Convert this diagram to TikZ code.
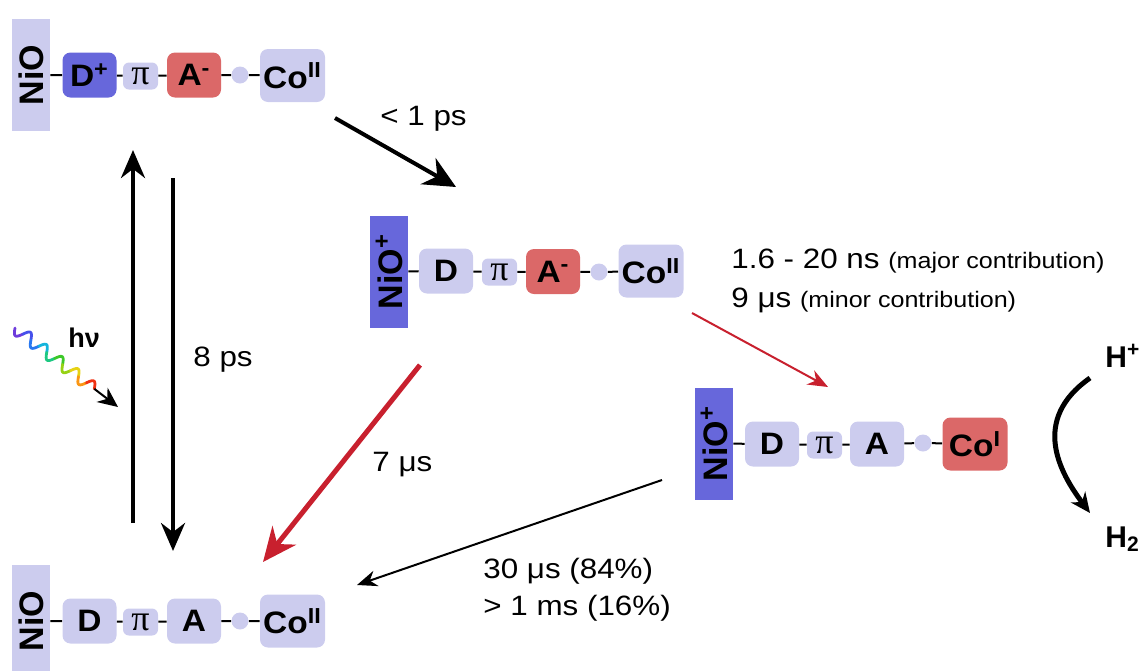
\documentclass[tikz,border=0pt]{standalone}
\usepackage{fontspec}
\setmainfont{Liberation Sans}
\newfontfamily\lblfont{Liberation Sans}[FakeStretch=1.12]
\newfontfamily\boxfont{Liberation Sans}[FakeStretch=1.08]
\newfontfamily\pifont{Liberation Serif}
\usetikzlibrary{arrows.meta,positioning,calc}

\definecolor{lav}{RGB}{204,204,238}
\definecolor{vio}{RGB}{103,103,219}
\definecolor{sal}{RGB}{219,104,104}
\definecolor{crim}{RGB}{200,32,46}
\definecolor{hva}{RGB}{110,60,220}
\definecolor{hvb}{RGB}{70,80,235}
\definecolor{hvc}{RGB}{40,120,240}
\definecolor{hvd}{RGB}{20,180,220}
\definecolor{hve}{RGB}{30,200,130}
\definecolor{hvf}{RGB}{60,200,40}
\definecolor{hvg}{RGB}{150,210,20}
\definecolor{hvh}{RGB}{230,210,20}
\definecolor{hvi}{RGB}{250,150,20}
\definecolor{hvj}{RGB}{240,50,20}

\begin{document}
\begin{tikzpicture}[x=0.5pt, y=-0.5pt,
  bar/.style={rectangle, minimum width=56pt, minimum height=19pt, inner sep=0pt, rotate=90, font=\bfseries\fontsize{17}{18}\selectfont},
  unit/.style={rectangle, rounded corners=4pt, fill=lav, minimum width=27pt, minimum height=22.5pt, inner sep=0pt, font=\boxfont\bfseries\fontsize{15.5}{17}\selectfont},
  pibox/.style={rectangle, rounded corners=3pt, fill=lav, minimum width=17.5pt, minimum height=13.5pt, inner sep=0pt, font=\pifont\fontsize{18}{18}\selectfont},
  cobox/.style={unit, minimum width=32.5pt, minimum height=26.5pt},
  link/.style={circle, fill=lav, minimum size=8.5pt, inner sep=0pt},
  bond/.style={line width=1pt},
  lbl/.style={anchor=base west, inner sep=0pt, font=\lblfont\fontsize{14}{16}\selectfont},
  bold/.style={anchor=base west, inner sep=0pt, font=\bfseries\fontsize{15}{16}\selectfont},
  thick arrow/.style={line width=2pt, -{Stealth[length=16pt, width=15pt]}},
  thin arrow/.style={line width=1pt, -{Stealth[length=10pt, width=8pt]}}]
  \clip (0,0) rectangle (1140,670);

  % row 1: NiO - D+ - pi - A- - Co(II)
  \node[bar, fill=lav] (nio1) at (31,75) {NiO};
  \node[unit, fill=vio] (dp1) at (89.5,75) {D\textsuperscript{+}};
  \node[pibox] (pi1) at (140.5,76) {π};
  \node[unit, fill=sal] (am1) at (194,75) {A\textsuperscript{-}};
  \node[link] (dot1) at (240,75) {};
  \node[cobox] (co1) at (292.5,75.5) {Co\textsuperscript{II}};

  % row 2: NiO+ - D - pi - A- - Co(II)
  \node[bar, fill=vio] (nio2) at (389,271.5) {NiO\textsuperscript{+}};
  \node[unit] (d2) at (446,271) {D};
  \node[pibox] (pi2) at (499.5,272) {π};
  \node[unit, fill=sal] (am2) at (553,271.5) {A\textsuperscript{-}};
  \node[link] (dot2) at (599,272) {};
  \node[cobox] (co2) at (651,271) {Co\textsuperscript{II}};

  % row 3: NiO+ - D - pi - A - Co(I)
  \node[bar, fill=vio] (nio3) at (714,443.5) {NiO\textsuperscript{+}};
  \node[unit] (d3) at (772,444) {D};
  \node[pibox] (pi3) at (824.5,445) {π};
  \node[unit] (a3) at (877,444) {A};
  \node[link] (dot3) at (923,443) {};
  \node[cobox, fill=sal] (co3) at (975,444) {Co\textsuperscript{I}};

  % row 4: ground state
  \node[bar, fill=lav] (nio4) at (31,621) {NiO};
  \node[unit] (d4) at (89.5,621) {D};
  \node[pibox] (pi4) at (140.5,622) {π};
  \node[unit] (a4) at (194,621) {A};
  \node[link] (dot4) at (240,621) {};
  \node[cobox] (co4) at (292.5,621) {Co\textsuperscript{II}};

  \draw[bond] (nio1) -- (dp1) -- (pi1) -- (am1) -- (dot1) -- (co1);
  \draw[bond] (nio2) -- (d2) -- (pi2) -- (am2) -- (dot2) -- (co2);
  \draw[bond] (nio3) -- (d3) -- (pi3) -- (a3) -- (dot3) -- (co3);
  \draw[bond] (nio4) -- (d4) -- (pi4) -- (a4) -- (dot4) -- (co4);

  % arrow ends
  \coordinate (injs) at (335,118);
  \coordinate (injt) at (456,187);
  \coordinate (ups) at (133,523);
  \coordinate (upt) at (133,150);
  \coordinate (dns) at (173,178);
  \coordinate (dnt) at (173,551);
  \coordinate (rcs) at (420,365);
  \coordinate (rct) at (263,562);
  \coordinate (cos) at (692,313);
  \coordinate (cot) at (828,387);
  \coordinate (bks) at (662,480);
  \coordinate (bkt) at (357,585);
  \coordinate (hps) at (1090,378);
  \coordinate (hpt) at (1090,513);
  \coordinate (hvstart) at (15,328);
  \coordinate (hvtip) at (118,407);

  \draw[thick arrow] (injs) -- (injt);
  \draw[line width=2pt, -{Stealth[length=14pt, width=12pt]}] (ups) -- (upt);
  \draw[line width=2pt, -{Stealth[length=14pt, width=12pt]}] (dns) -- (dnt);
  \draw[crim, line width=2.5pt, -{Stealth[length=17pt, width=15pt]}] (rcs) -- (rct);
  \draw[thin arrow, crim] (cos) -- (cot);
  \draw[thin arrow] (bks) -- (bkt);
  \draw[line width=2.5pt, -{Stealth[length=10pt, width=9pt]}] (hps) .. controls (1030,420) and (1060,473) .. (hpt);

  % light, rainbow wave
  \begin{scope}[shift={(hvstart)}, rotate=-37.5]
    \foreach \c/\a/\b in {hva/0/10, hvb/10/20, hvc/20/30, hvd/30/40, hve/40/50,
                          hvf/50/60, hvg/60/70, hvh/70/80, hvi/80/90, hvj/90/100}
      \draw[\c, line width=1.4pt, line cap=round] plot[domain=\a:\b, samples=15, smooth] (\x, {6*sin(18*\x)});
  \end{scope}
  \draw[line width=1pt, -{Stealth[length=10pt, width=9pt]}] ($(hvstart)!0.77!(hvtip)$) -- (hvtip);

  % labels
  \node[lbl] (tinj) at (380,125) {< 1 ps};
  \node[lbl] (tcs) at (193,366) {8 ps};
  \node[lbl] (trc) at (372,471) {7 μs};
  \node[lbl] (tns) at (731,268) {1.6 - 20 ns {\fontsize{11.2}{13}\selectfont (major contribution)}};
  \node[lbl] (tus) at (731,307) {9 μs {\fontsize{11.2}{13}\selectfont (minor contribution)}};
  \node[lbl] (tbk) at (483,578) {30 μs (84\%)};
  \node[lbl] (tms) at (483,615) {> 1 ms (16\%)};
  \node[bold, font=\bfseries\fontsize{13.5}{15}\selectfont] (thv) at (68,347) {hν};
  \node[bold] (hplus) at (1105,367) {H\textsuperscript{+}};
  \node[bold] (htwo) at (1105,547) {H\textsubscript{2}};
\end{tikzpicture}
\end{document}
